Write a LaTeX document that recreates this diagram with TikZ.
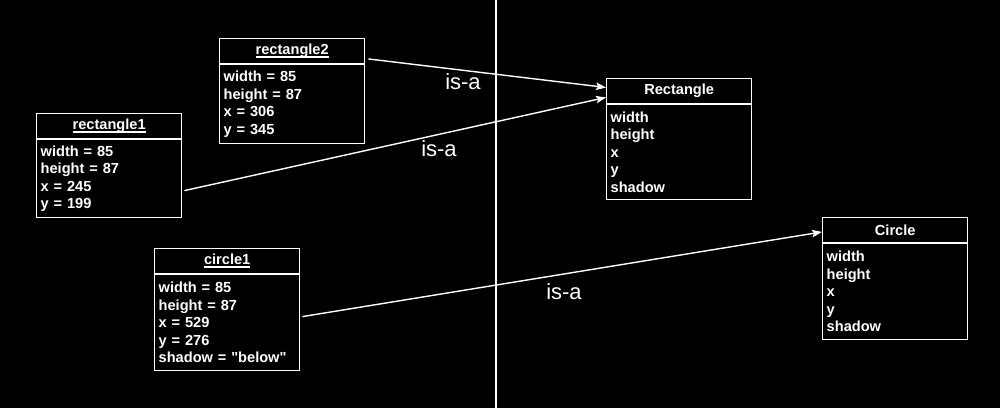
\documentclass[tikz,border=0pt]{standalone}
\usepackage{fontspec}
\setmainfont{Liberation Sans}[Ligatures=TeXOff]
\usetikzlibrary{arrows.meta,calc}
\newcommand{\objul}[1]{\setbox0\hbox{#1}\rlap{\vrule width \wd0 height -1.6pt depth 2.9pt}\box0}
\begin{document}
\begin{tikzpicture}[x=1pt,y=1pt,
  boxfont/.style={font=\bfseries\fontsize{14.6}{17.5}\selectfont},
  hdr/.style={draw=white, line width=1.4pt, fill=black, text=white, boxfont,
    minimum width=145pt, minimum height=24.5pt, inner sep=0pt, anchor=north west},
  body/.style={draw=white, line width=1.4pt, fill=black, text=white, boxfont,
    text width=137pt, align=left, inner xsep=4pt, inner ysep=5pt, anchor=north west},
  isa/.style={draw=white, line width=1.4pt, -{Stealth[length=10pt,width=7.5pt,inset=2pt]}},
  lbl/.style={text=white, font=\fontsize{22}{26}\selectfont, inner sep=0pt},
  divider/.style={draw=white, line width=1.2pt}]
\fill[black] (0,0) rectangle (1000,408);
\useasboundingbox (0,0) rectangle (1000,408);
% vertical divider
\coordinate (vt) at (496,408);
\coordinate (vb) at (496,0);
\draw[divider] (vt) -- (vb);
% rectangle2
\node[hdr] (r2h) at (219,370) {\objul{rectangle2}};
\node[body, minimum height=79pt] (r2b) at (r2h.south west) {width = 85\\height = 87\\x = 306\\y = 345};
% rectangle1
\node[hdr] (r1h) at (36,295) {\objul{rectangle1}};
\node[body, minimum height=78pt] (r1b) at (r1h.south west) {width = 85\\height = 87\\x = 245\\y = 199};
% Rectangle
\node[hdr] (Rh) at (606,330) {Rectangle};
\node[body, minimum height=95pt] (Rb) at (Rh.south west) {width\\height\\x\\y\\shadow};
% circle1
\node[hdr] (c1h) at (154,160) {\objul{circle1}};
\node[body, minimum height=96pt] (c1b) at (c1h.south west) {width = 85\\height = 87\\x = 529\\y = 276\\shadow = "below"};
% Circle
\node[hdr] (Ch) at (822,191) {Circle};
\node[body, minimum height=96pt] (Cb) at (Ch.south west) {width\\height\\x\\y\\shadow};
% connectors
\draw[isa] ([xshift=3pt,yshift=-8pt]r2h.east) -- ([yshift=3.5pt]Rh.west);
\draw[isa] ([xshift=2pt,yshift=-12pt]r1b.east) -- ([yshift=-6.5pt]Rh.west);
\draw[isa] ([xshift=2pt,yshift=6pt]c1b.east) -- ([yshift=-2pt]Ch.west);
% labels
\node[lbl] (l1) at (463,326) {is-a};
\node[lbl] (l2) at (439,259) {is-a};
\node[lbl] (l3) at (564,116) {is-a};
\end{tikzpicture}
\end{document}
